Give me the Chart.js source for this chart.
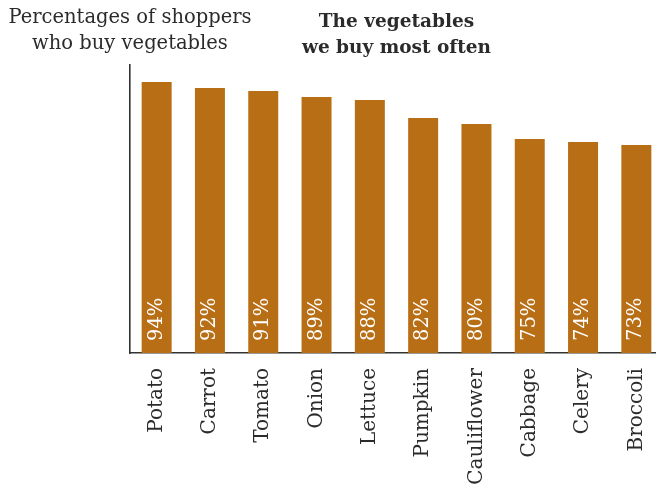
<!DOCTYPE html>
<html>
<head>
<meta charset="utf-8">
<script src="https://cdn.jsdelivr.net/npm/chart.js@4.4.1/dist/chart.umd.min.js"></script>
<style>
  html, body { margin: 0; padding: 0; background: #fff; overflow: hidden; }
  #wrap { width: 664px; height: 489px; }
</style>
</head>
<body>
<div id="wrap"><canvas id="c" width="664" height="489"></canvas></div>
<script>
// Share of shoppers buying each vegetable (%)
const vegetables = ['Potato', 'Carrot', 'Tomato', 'Onion', 'Lettuce', 'Pumpkin', 'Cauliflower', 'Cabbage', 'Celery', 'Broccoli'];
const percentages = [94, 92, 91, 89, 88, 82, 80, 75, 74, 73];
const titleLines = ['The vegetables', 'we buy most often'];
const axisLabelLines = ['Percentages of shoppers', 'who buy vegetables'];

const SERIF = '"DejaVu Serif", "Liberation Serif", serif';
const BAR = '#B86E14';
const INK = '#2b2b2b';

// Value labels written upward inside the foot of each bar
const barValueLabels = {
  id: 'barValueLabels',
  afterDatasetsDraw(chart) {
    const ctx = chart.ctx;
    const meta = chart.getDatasetMeta(0);
    const base = chart.chartArea.bottom;
    ctx.save();
    ctx.fillStyle = '#ffffff';
    ctx.font = '19.5px ' + SERIF;
    ctx.textAlign = 'left';
    ctx.textBaseline = 'middle';
    meta.data.forEach((bar, i) => {
      ctx.save();
      ctx.translate(bar.x, base - 12);
      ctx.rotate(-Math.PI / 2);
      ctx.fillText(percentages[i] + '%', 0, 0);
      ctx.restore();
    });
    ctx.restore();
  }
};

// Heading over the plot and the measure caption over the value axis
const headings = {
  id: 'headings',
  afterDraw(chart) {
    const ctx = chart.ctx;
    const area = chart.chartArea;
    ctx.save();
    ctx.fillStyle = INK;
    ctx.textAlign = 'center';
    ctx.textBaseline = 'alphabetic';
    ctx.font = '19.5px ' + SERIF;
    ctx.fillText(axisLabelLines[0], area.left, 23);
    ctx.fillText(axisLabelLines[1], area.left, 49);
    ctx.font = 'bold 18.5px ' + SERIF;
    const cx = (area.left + area.right) / 2;
    ctx.fillText(titleLines[0], cx, 27);
    ctx.fillText(titleLines[1], cx, 53);
    ctx.restore();
  }
};

new Chart(document.getElementById('c'), {
  type: 'bar',
  data: {
    labels: vegetables,
    datasets: [{
      data: percentages,
      backgroundColor: BAR,
      borderWidth: 0,
      barPercentage: 0.5625,
      categoryPercentage: 1.0
    }]
  },
  options: {
    responsive: false,
    animation: false,
    devicePixelRatio: 1,
    layout: { padding: { top: 65, left: 130, right: 1, bottom: 0 } },
    plugins: {
      legend: { display: false },
      tooltip: { enabled: false },
      title: { display: false }
    },
    scales: {
      x: {
        grid: { display: false, drawTicks: false },
        border: { display: true, color: '#333', width: 1.6 },
        ticks: {
          minRotation: 90,
          maxRotation: 90,
          padding: 15,
          color: INK,
          font: { family: SERIF, size: 20 }
        },
        afterFit(scale) {
          scale.height = 136;
          scale.paddingLeft = 0;
          scale.paddingRight = 0;
        }
      },
      y: {
        min: 3.7,
        max: 99.7,
        grid: { display: false, drawTicks: false },
        border: { display: true, color: '#333', width: 1.6 },
        ticks: { display: false },
        afterFit(scale) {
          scale.width = 0;
          scale.paddingTop = 0;
          scale.paddingBottom = 0;
        }
      }
    }
  },
  plugins: [barValueLabels, headings]
});
</script>
</body>
</html>
